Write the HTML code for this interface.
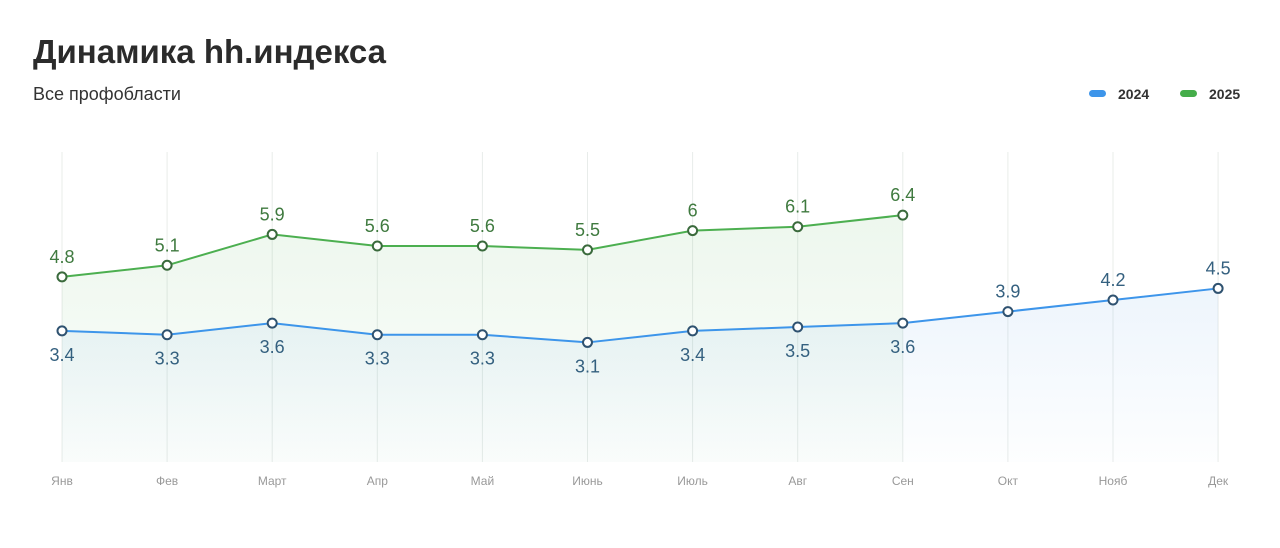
<!DOCTYPE html>
<html><head><meta charset="utf-8"><style>
body{margin:0;background:#fff;width:1280px;height:543px;overflow:hidden;font-family:"Liberation Sans",sans-serif}
</style></head><body>
<svg width="1280" height="543" xmlns="http://www.w3.org/2000/svg">
<defs>
<linearGradient id="gg" x1="0" y1="0" x2="0" y2="1"><stop offset="0" stop-color="#4caf50" stop-opacity="0.10"/><stop offset="1" stop-color="#4caf50" stop-opacity="0.02"/></linearGradient>
<linearGradient id="gb" x1="0" y1="0" x2="0" y2="1"><stop offset="0" stop-color="#3d8fe0" stop-opacity="0.09"/><stop offset="1" stop-color="#3d8fe0" stop-opacity="0.01"/></linearGradient>
</defs>
<text x="33" y="63" font-size="33" font-weight="bold" fill="#2b2b2b">Динамика hh.индекса</text>
<text x="33" y="100" font-size="18" fill="#333">Все профобласти</text>
<g><rect x="1089" y="90" width="17" height="7" rx="3.5" fill="#3d95ea"/><text x="1118" y="99" font-size="14" font-weight="bold" fill="#333">2024</text></g>
<g><rect x="1180" y="90" width="17" height="7" rx="3.5" fill="#45ad4a"/><text x="1209" y="99" font-size="14" font-weight="bold" fill="#333">2025</text></g>
<g id="grid"></g><g id="areas"></g><g id="lines"></g><g id="pts"></g><g id="labels"></g>
</svg>
<script>
const months=["Янв","Фев","Март","Апр","Май","Июнь","Июль","Авг","Сен","Окт","Нояб","Дек"];
const s2024=[3.4,3.3,3.6,3.3,3.3,3.1,3.4,3.5,3.6,3.9,4.2,4.5];
const s2025=[4.8,5.1,5.9,5.6,5.6,5.5,6,6.1,6.4];
const NS="http://www.w3.org/2000/svg";
const x=i=>62+i*105.1;
const y=v=>462-v*38.57;
function mk(t,a,p){const e=document.createElementNS(NS,t);for(const k in a)e.setAttribute(k,a[k]);document.getElementById(p).appendChild(e);return e;}
months.forEach((m,i)=>{
 const l=mk('line',{x1:x(i),x2:x(i),y1:152,y2:462,stroke:'#e8ecea','stroke-width':1},'grid');
 
 
 const t=mk('text',{x:x(i),y:485,'text-anchor':'middle','font-size':12,fill:'#999'},'grid');
 t.textContent=m;
 
 
});
function series(d,col,dark,grad,lab,name,below){
 const pts=d.map((v,i)=>x(i)+','+y(v)).join(' ');
 const a=mk('polygon',{points:x(0)+',462 '+pts+' '+x(d.length-1)+',462',fill:'url(#'+grad+')'},'areas');
 
 
 const p=mk('polyline',{points:pts,fill:'none',stroke:col,'stroke-width':2},'lines');
 
 
 d.forEach((v,i)=>{
  const c=mk('circle',{cx:x(i),cy:y(v),r:4.5,fill:'#fff',stroke:dark,'stroke-width':2},'pts');
  
  
  const b=below(i);
  const t=mk('text',{x:x(i),y:b?y(v)+30:y(v)-14,'text-anchor':'middle','font-size':18,fill:lab},'labels');
  t.textContent=String(v);
  
  
 });
}
series(s2025,'#4caf50','#3a6a3c','gg','#3f7a3f','series-2025',()=>false);
series(s2024,'#3d95ea','#2f5270','gb','#34607f','series-2024',i=>i<s2025.length);
</script>
</body></html>
